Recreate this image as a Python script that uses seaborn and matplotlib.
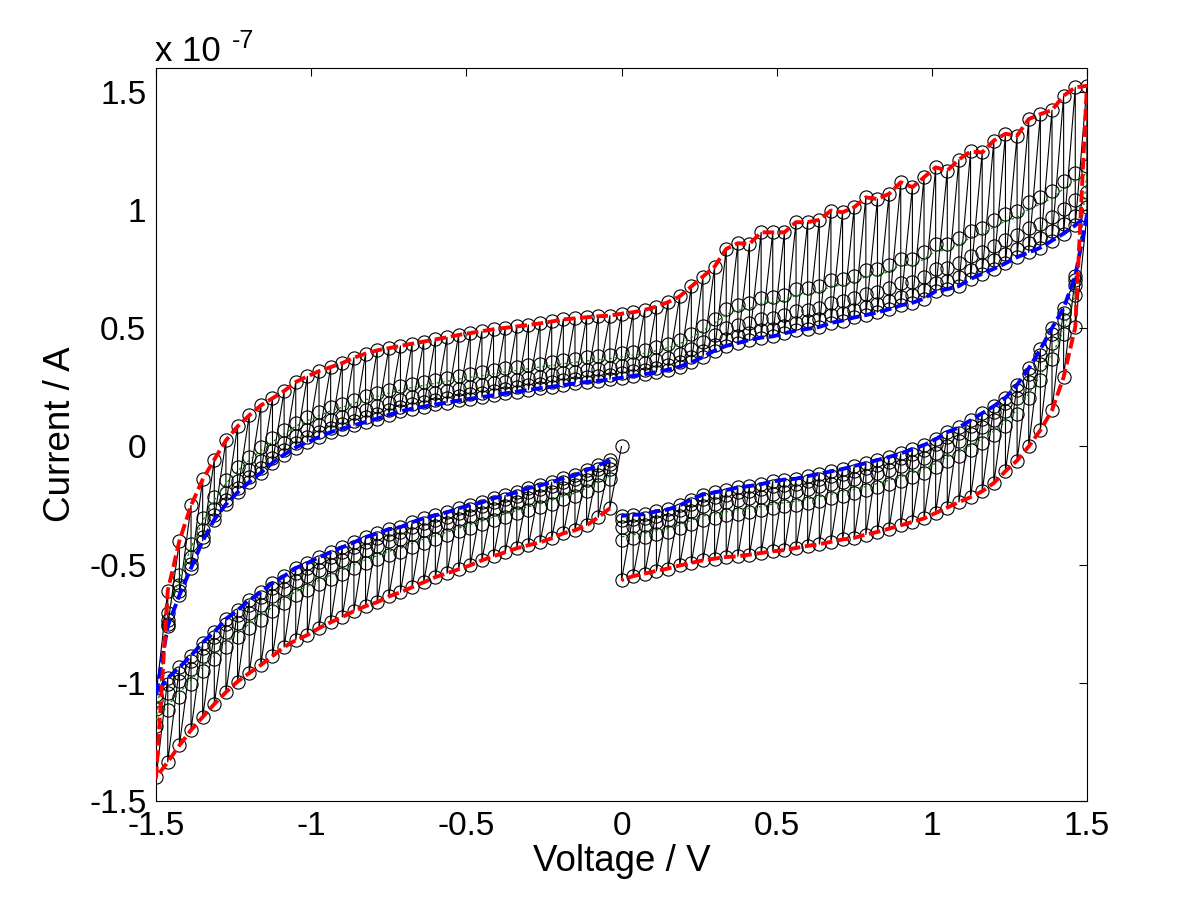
import numpy as np
import pandas as pd
import matplotlib
matplotlib.use("Agg")
import matplotlib.pyplot as plt
import seaborn as sns

# ---------------- data (current in units of 1e-7 A) ----------------
start_voltage = 0.0
start_current = 0.0

# first cathodic sweep 0 -> -1.5 V
volt_sweep1 = [-0.0375, -0.075, -0.1125, -0.15, -0.1875, -0.225, -0.2625, -0.3, -0.3375, -0.375,
               -0.4125, -0.45, -0.4875, -0.525, -0.5625, -0.6, -0.6375, -0.675, -0.7125, -0.75,
               -0.7875, -0.825, -0.8625, -0.9, -0.9375, -0.975, -1.0125, -1.05, -1.0875, -1.125,
               -1.1625, -1.2, -1.2375, -1.275, -1.3125, -1.35, -1.3875, -1.425, -1.4625, -1.5]
peak_sweep1 = [-0.262, -0.300, -0.334, -0.355, -0.368, -0.389, -0.406, -0.418, -0.431, -0.448,
               -0.465, -0.482, -0.503, -0.520, -0.537, -0.553, -0.575, -0.596, -0.617, -0.635,
               -0.659, -0.676, -0.697, -0.722, -0.744, -0.769, -0.798, -0.820, -0.849, -0.887,
               -0.925, -0.959, -0.995, -1.040, -1.090, -1.145, -1.200, -1.265, -1.335, -1.400]
final_sweep1 = [-0.059, -0.080, -0.101, -0.123, -0.135, -0.152, -0.165, -0.177, -0.194, -0.207,
                -0.220, -0.237, -0.249, -0.262, -0.279, -0.292, -0.304, -0.321, -0.342, -0.351,
                -0.368, -0.384, -0.406, -0.427, -0.448, -0.469, -0.494, -0.515, -0.549, -0.579,
                -0.617, -0.651, -0.693, -0.730, -0.785, -0.830, -0.885, -0.935, -0.980, -1.050]

# anodic sweep -1.5 -> 1.5 V
volt_sweep2 = [-1.4625, -1.425, -1.3875, -1.35, -1.3125, -1.275, -1.2375, -1.2, -1.1625, -1.125,
               -1.0875, -1.05, -1.0125, -0.975, -0.9375, -0.9, -0.8625, -0.825, -0.7875, -0.75,
               -0.7125, -0.675, -0.6375, -0.6, -0.5625, -0.525, -0.4875, -0.45, -0.4125, -0.375,
               -0.3375, -0.3, -0.2625, -0.225, -0.1875, -0.15, -0.1125, -0.075, -0.0375, 0.0,
               0.0375, 0.075, 0.1125, 0.15, 0.1875, 0.225, 0.2625, 0.3, 0.3375, 0.375,
               0.4125, 0.45, 0.4875, 0.525, 0.5625, 0.6, 0.6375, 0.675, 0.7125, 0.75,
               0.7875, 0.825, 0.8625, 0.9, 0.9375, 0.975, 1.0125, 1.05, 1.0875, 1.125,
               1.1625, 1.2, 1.2375, 1.275, 1.3125, 1.35, 1.3875, 1.425, 1.4625, 1.5]
peak_sweep2 = [-0.610, -0.400, -0.250, -0.140, -0.056, 0.025, 0.084, 0.131, 0.173, 0.203,
               0.234, 0.272, 0.296, 0.318, 0.335, 0.352, 0.375, 0.392, 0.406, 0.415,
               0.425, 0.434, 0.443, 0.452, 0.461, 0.471, 0.479, 0.487, 0.495, 0.501,
               0.507, 0.513, 0.520, 0.528, 0.537, 0.541, 0.546, 0.550, 0.553, 0.561,
               0.567, 0.577, 0.591, 0.610, 0.634, 0.676, 0.718, 0.760, 0.835, 0.859,
               0.856, 0.905, 0.905, 0.905, 0.948, 0.948, 0.958, 0.997, 0.990, 1.011,
               1.053, 1.046, 1.068, 1.117, 1.096, 1.138, 1.180, 1.166, 1.213, 1.247,
               1.243, 1.293, 1.322, 1.314, 1.384, 1.405, 1.422, 1.483, 1.518, 1.525]
final_sweep2 = [-0.760, -0.630, -0.515, -0.400, -0.310, -0.245, -0.195, -0.151, -0.112, -0.070,
                -0.035, -0.005, 0.018, 0.039, 0.060, 0.075, 0.089, 0.103, 0.117, 0.133,
                0.148, 0.159, 0.168, 0.177, 0.185, 0.194, 0.201, 0.208, 0.216, 0.224,
                0.231, 0.239, 0.246, 0.252, 0.259, 0.266, 0.272, 0.277, 0.283, 0.290,
                0.298, 0.305, 0.314, 0.324, 0.337, 0.355, 0.378, 0.405, 0.425, 0.437,
                0.450, 0.460, 0.465, 0.478, 0.490, 0.497, 0.505, 0.522, 0.532, 0.545,
                0.555, 0.567, 0.580, 0.596, 0.607, 0.625, 0.656, 0.665, 0.678, 0.708,
                0.730, 0.751, 0.774, 0.800, 0.820, 0.840, 0.870, 0.900, 0.935, 0.975]

# second cathodic sweep 1.5 -> 0 V
volt_sweep3 = [1.4625, 1.425, 1.3875, 1.35, 1.3125, 1.275, 1.2375, 1.2, 1.1625, 1.125,
               1.0875, 1.05, 1.0125, 0.975, 0.9375, 0.9, 0.8625, 0.825, 0.7875, 0.75,
               0.7125, 0.675, 0.6375, 0.6, 0.5625, 0.525, 0.4875, 0.45, 0.4125, 0.375,
               0.3375, 0.3, 0.2625, 0.225, 0.1875, 0.15, 0.1125, 0.075, 0.0375, 0.0]
peak_sweep3 = [0.504, 0.293, 0.152, 0.068, 0.000, -0.060, -0.105, -0.155, -0.190, -0.215,
               -0.236, -0.259, -0.282, -0.305, -0.320, -0.334, -0.348, -0.362, -0.373, -0.387,
               -0.394, -0.404, -0.414, -0.421, -0.430, -0.439, -0.444, -0.451, -0.458, -0.465,
               -0.468, -0.475, -0.482, -0.493, -0.504, -0.517, -0.527, -0.538, -0.549, -0.566]
final_sweep3 = [0.720, 0.585, 0.500, 0.410, 0.330, 0.260, 0.205, 0.170, 0.140, 0.110,
                0.080, 0.060, 0.030, 0.005, -0.012, -0.030, -0.045, -0.058, -0.071, -0.083,
                -0.096, -0.106, -0.116, -0.126, -0.137, -0.141, -0.148, -0.160, -0.168, -0.174,
                -0.185, -0.195, -0.204, -0.225, -0.250, -0.267, -0.275, -0.287, -0.290, -0.294]

# relative position of the samples inside one potential step (1 = first sample, 0 = last)
sample_levels = [1.0, 0.38, 0.18, 0.07, 0.0]

y_ticks = [-1.5, -1.0, -0.5, 0.0, 0.5, 1.0, 1.5]
y_ticklabels = ["-1.5", "-1", "-0.5", "0", "0.5", "1", "1.5"]
x_ticks = [-1.5, -1.0, -0.5, 0.0, 0.5, 1.0, 1.5]
x_ticklabels = ["-1.5", "-1", "-0.5", "0", "0.5", "1", "1.5"]

# ---------------- assemble ----------------
volts = volt_sweep1 + volt_sweep2 + volt_sweep3
peaks = peak_sweep1 + peak_sweep2 + peak_sweep3
finals = final_sweep1 + final_sweep2 + final_sweep3

raw_v = [start_voltage]
raw_i = [start_current]
mean_i = []
for v, p, f in zip(volts, peaks, finals):
    vals = [f + s * (p - f) for s in sample_levels]
    raw_v += [v] * len(vals)
    raw_i += vals
    mean_i.append(sum(vals) / len(vals))

raw = pd.DataFrame({"V": raw_v, "I": raw_i})
env = pd.DataFrame({"V": volts, "peak": peaks, "final": finals, "mean": mean_i})

# ---------------- style ----------------
sns.set_theme(style="white")
plt.rcParams["font.family"] = ["Liberation Sans", "DejaVu Sans"]
plt.rcParams["xtick.direction"] = "in"
plt.rcParams["ytick.direction"] = "in"

fig = plt.figure(figsize=(12.01, 9.01), dpi=100)
ax = fig.add_axes([0.13, 0.111, 0.775, 0.8135])

sns.lineplot(data=raw, x="V", y="I", sort=False, estimator=None, ax=ax,
             color="black", linewidth=0.8, marker="o", markersize=9.5,
             markerfacecolor="none", markeredgecolor="black", markeredgewidth=0.8,
             zorder=2)
sns.lineplot(data=env, x="V", y="mean", sort=False, estimator=None, ax=ax,
             color="#008000", linewidth=0.9, linestyle=(0, (2.0, 2.5)), zorder=3)
sns.lineplot(data=env, x="V", y="final", sort=False, estimator=None, ax=ax,
             color="#0000ff", linewidth=2.8, linestyle=(0, (3.0, 1.2)), zorder=4)
sns.lineplot(data=env, x="V", y="peak", sort=False, estimator=None, ax=ax,
             color="#ff0000", linewidth=2.8, linestyle=(0, (3.0, 1.2)), zorder=5)

ax.set_xlim(-1.5, 1.5)
ax.set_ylim(-1.5, 1.6)
ax.set_xticks(x_ticks)
ax.set_xticklabels(x_ticklabels)
ax.set_yticks(y_ticks)
ax.set_yticklabels(y_ticklabels)
ax.tick_params(axis="both", which="both", direction="in", length=6, width=0.8,
               labelsize=24, top=True, right=True, color="black", labelcolor="black",
               pad=7)
for s in ax.spines.values():
    s.set_visible(True)
    s.set_color("black")
    s.set_linewidth(0.8)

ax.set_xlabel("Voltage / V", fontsize=26.5, color="black", labelpad=2)
ax.set_ylabel("Current / A", fontsize=26.5, color="black", labelpad=8)

fig.text(155 / 1201, 1 - 61 / 901, "x 10", fontsize=25, color="black", ha="left", va="baseline")
fig.text(232 / 1201, 1 - 48 / 901, "-7", fontsize=18, color="black", ha="left", va="baseline")

fig.savefig("out.png", dpi=100, facecolor="white")
